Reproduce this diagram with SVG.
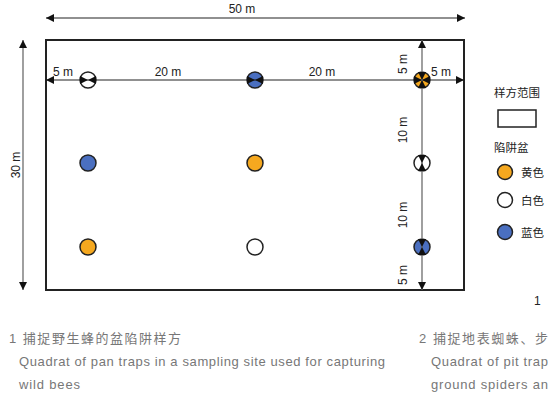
<svg xmlns="http://www.w3.org/2000/svg" width="548" height="411" viewBox="0 0 548 411">
<style>
text{font-family:"Liberation Sans","Noto Sans CJK SC",sans-serif;}
.dim{font-size:12px;fill:#222;}
.cap{font-size:13px;fill:#777;}
.leg{font-size:11.5px;fill:#222;}
.dl{stroke:#222;stroke-width:1.2;fill:none;}
.gl{stroke:#777;stroke-width:1.4;fill:none;}
.y{fill:#F5A81F;stroke:#222;stroke-width:1.5;}
.w{fill:#fff;stroke:#222;stroke-width:1.5;}
.b{fill:#4A6FC0;stroke:#222;stroke-width:1.5;}
</style>
<defs>
<marker id="ah" viewBox="0 0 8 8" refX="8" refY="4" markerWidth="8" markerHeight="8" markerUnits="userSpaceOnUse" orient="auto-start-reverse">
<path d="M0,0 L8,4 L0,8 z" fill="#111"/>
</marker>
</defs>
<rect width="548" height="411" fill="#fff"/>
<g id="quadrat"><rect x="46" y="40" width="418" height="250" fill="none" stroke="#222" stroke-width="2"/></g>
<g id="trap-r1c1"><circle cx="88" cy="80" r="8" class="w"/></g>
<g id="trap-r1c2"><circle cx="255" cy="80" r="8" class="b"/></g>
<g id="trap-r1c3"><circle cx="422" cy="80" r="8" class="y"/></g>
<g id="trap-r2c1"><circle cx="88" cy="163" r="8" class="b"/></g>
<g id="trap-r2c2"><circle cx="255" cy="163" r="8" class="y"/></g>
<g id="trap-r2c3"><circle cx="422" cy="163" r="8" class="w"/></g>
<g id="trap-r3c1"><circle cx="88" cy="247" r="8" class="y"/></g>
<g id="trap-r3c2"><circle cx="255" cy="247" r="8" class="w"/></g>
<g id="trap-r3c3"><circle cx="422" cy="247" r="8" class="b"/></g>
<g id="connectors">
<line x1="46" y1="18" x2="465" y2="18" class="dl" marker-start="url(#ah)" marker-end="url(#ah)"/>
<line x1="23" y1="40" x2="23" y2="290" class="gl" marker-start="url(#ah)" marker-end="url(#ah)"/>
<line x1="46" y1="80" x2="88" y2="80" class="dl" marker-start="url(#ah)" marker-end="url(#ah)"/>
<line x1="88" y1="80" x2="255" y2="80" class="dl" marker-start="url(#ah)" marker-end="url(#ah)"/>
<line x1="255" y1="80" x2="422" y2="80" class="dl" marker-start="url(#ah)" marker-end="url(#ah)"/>
<line x1="422" y1="80" x2="464" y2="80" class="dl" marker-start="url(#ah)" marker-end="url(#ah)"/>
<line x1="422" y1="40" x2="422" y2="80" class="gl" marker-start="url(#ah)" marker-end="url(#ah)"/>
<line x1="422" y1="80" x2="422" y2="163" class="gl" marker-start="url(#ah)" marker-end="url(#ah)"/>
<line x1="422" y1="163" x2="422" y2="247" class="gl" marker-start="url(#ah)" marker-end="url(#ah)"/>
<line x1="422" y1="247" x2="422" y2="290" class="gl" marker-start="url(#ah)" marker-end="url(#ah)"/>
</g>
<g id="labels">
<text class="dim" x="242" y="13" text-anchor="middle">50 m</text>
<text class="dim" transform="translate(20,165) rotate(-90)" text-anchor="middle">30 m</text>
<text class="dim" x="63" y="76" text-anchor="middle">5 m</text>
<text class="dim" x="168" y="76" text-anchor="middle">20 m</text>
<text class="dim" x="322" y="76" text-anchor="middle">20 m</text>
<text class="dim" x="441" y="76" text-anchor="middle">5 m</text>
<text class="dim" transform="translate(407,64) rotate(-90)" text-anchor="middle">5 m</text>
<text class="dim" transform="translate(407,130) rotate(-90)" text-anchor="middle">10 m</text>
<text class="dim" transform="translate(407,215) rotate(-90)" text-anchor="middle">10 m</text>
<text class="dim" transform="translate(407,275) rotate(-90)" text-anchor="middle">5 m</text>
</g>
<g id="legend">
<text class="leg" x="494" y="97">样方范围</text>
<rect x="498" y="110" width="38" height="17" fill="#fff" stroke="#222" stroke-width="1.5"/>
<text class="leg" x="494" y="152">陷阱盆</text>
<circle cx="505" cy="172" r="7.5" class="y"/>
<text class="leg" x="521" y="177">黄色</text>
<circle cx="505" cy="200" r="7.5" class="w"/>
<text class="leg" x="521" y="205">白色</text>
<circle cx="505" cy="232" r="7.5" class="b"/>
<text class="leg" x="521" y="237">蓝色</text>
<text class="dim" x="534" y="305">1</text>
</g>
<g id="captions">
<text class="cap" x="9" y="343" textLength="172">1 捕捉野生蜂的盆陷阱样方</text>
<text class="cap" x="19" y="366" textLength="366">Quadrat of pan traps in a sampling site used for capturing</text>
<text class="cap" x="19" y="389" textLength="61">wild bees</text>
<text class="cap" x="419" y="343" textLength="129">2 捕捉地表蜘蛛、步</text>
<text class="cap" x="431" y="366" textLength="117">Quadrat of pit trap</text>
<text class="cap" x="431" y="389" textLength="117">ground spiders an</text>
</g>
</svg>
